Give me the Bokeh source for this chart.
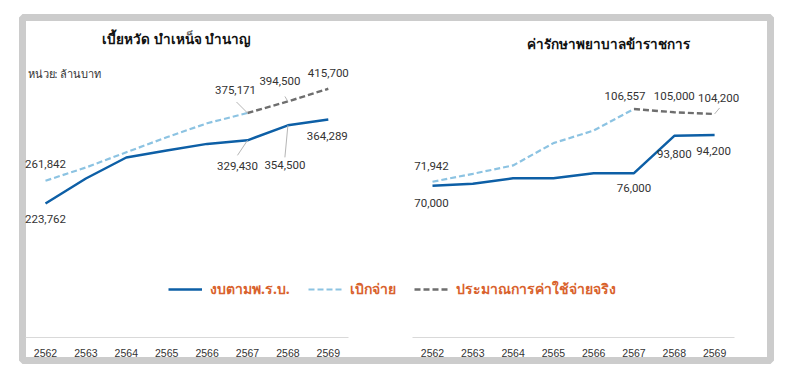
from bokeh.plotting import figure
from bokeh.models import Range1d, LinearAxis, FixedTicker, Label, Legend, LegendItem, ColumnDataSource
from bokeh.embed import file_html
from bokeh.resources import INLINE
from bokeh.core.properties import value

# ---------------- data ----------------
years = [2562, 2563, 2564, 2565, 2566, 2567, 2568, 2569]
paid_years = [2562, 2563, 2564, 2565, 2566, 2567]
est_years = [2567, 2568, 2569]

pension_title = "เบี้ยหวัด บำเหน็จ บำนาญ"
pension_budget = [223762, 265600, 300700, 312400, 323500, 329430, 354500, 364289]
pension_paid = [261842, 284000, 309500, 334600, 358000, 375171]
pension_est = [375171, 394500, 415700]

medical_title = "ค่ารักษาพยาบาลข้าราชการ"
medical_budget = [70000, 71000, 73600, 73600, 76000, 76000, 93800, 94200]
medical_paid = [71942, 75700, 79700, 90300, 96300, 106557]
medical_est = [106557, 105000, 104200]

unit_text = "หน่วย: ล้านบาท"
legend_labels = ["งบตามพ.ร.บ.", "เบิกจ่าย", "ประมาณการค่าใช้จ่ายจริง"]

# ---------------- styles ----------------
C_BUDGET = "#0d5fa6"
C_PAID = "#8cc3e2"
C_EST = "#6e6e6e"
C_LEGEND = "#d9622d"
C_TEXT = "#333333"
THAI_FONT = "Noto Sans"
NUM_FONT = "Roboto"

FW, FH = 748, 343  # frame size in px

p = figure(width=784, height=365, output_backend="svg", toolbar_location=None,
           x_range=Range1d(2561.4307, 2579.9456), y_range=Range1d(-38890, 534928),
           x_axis_type=None, y_axis_type=None,
           min_border_left=22, min_border_right=14, min_border_top=17, min_border_bottom=5)
p.extra_x_ranges = {"r": Range1d(2551.8263, 2570.3871)}
p.extra_y_ranges = {"r": Range1d(-13157, 150111)}
p.grid.visible = False
p.outline_line_color = "#cccccc"
p.outline_line_width = 7
p.background_fill_color = "white"
p.border_fill_color = "white"

# axes (inside the box)
for rn in ("default", "r"):
    ax = LinearAxis(x_range_name=rn, ticker=FixedTicker(ticks=years), fixed_location=0,
                    bounds=(2561.5, 2569.5),
                    axis_line_color="#d9d9d9", axis_line_width=1,
                    major_tick_line_color=None, minor_tick_line_color=None,
                    major_label_standoff=6,
                    major_label_text_font="Liberation Sans",
                    major_label_text_font_size="10.5px",
                    major_label_text_color=C_TEXT)
    p.add_layout(ax, "below")


def panel(budget, paid, est, rn, labels, leaders):
    kw = {} if rn == "default" else {"x_range_name": rn, "y_range_name": rn}
    r_b = p.line(years, budget, line_color=C_BUDGET, line_width=2.5, **kw)
    r_p = p.line(paid_years, paid, line_color=C_PAID, line_width=2.2, line_dash="6 3", **kw)
    r_e = p.line(est_years, est, line_color=C_EST, line_width=2.4, line_dash="6 3", **kw)

    series = {"budget": (years, budget), "paid": (paid_years, paid), "est": (est_years, est)}
    xr = p.x_range if rn == "default" else p.extra_x_ranges[rn]
    yr = p.y_range if rn == "default" else p.extra_y_ranges[rn]
    xpp = (xr.end - xr.start) / FW
    ypp = (yr.end - yr.start) / FH

    # leader lines
    x0, y0, x1, y1 = [], [], [], []
    for name, i, dx, dy in leaders:
        xs, ys = series[name]
        x0.append(xs[i]); y0.append(ys[i])
        x1.append(xs[i] + dx * xpp); y1.append(ys[i] - dy * ypp)
    if x0:
        p.segment(x0, y0, x1, y1, line_color="#b5b5b5", line_width=1, **kw)

    src = dict(x=[], y=[], t=[], dx=[], dy=[])
    for name, i, dx, dy in labels:
        xs, ys = series[name]
        src["x"].append(xs[i]); src["y"].append(ys[i])
        src["t"].append(f"{ys[i]:,}")
        src["dx"].append(dx); src["dy"].append(dy)
    p.text(x="x", y="y", text="t", x_offset="dx", y_offset="dy", source=ColumnDataSource(src),
           text_align="center", text_baseline="middle", text_font=value(NUM_FONT),
           text_font_size="11.5px", text_color=C_TEXT, **kw)
    return r_b, r_p, r_e


left_labels = [("budget", 0, 0, 16), ("budget", 5, -10, 26), ("budget", 6, -3, 40),
               ("budget", 7, -1, 17), ("paid", 0, 0, -17), ("paid", 5, -12, -23),
               ("est", 1, -8, -20), ("est", 2, 0, -16)]
left_leaders = [("paid", 5, -11, -11), ("est", 1, -3, -5), ("budget", 5, -10, 15),
                ("budget", 6, -3, 32)]
right_labels = [("budget", 0, -1, 17), ("budget", 5, 0, 15), ("budget", 6, 0, 18),
                ("budget", 7, -1, 16), ("paid", 0, -1, -16), ("paid", 5, -9, -13),
                ("est", 1, 0, -16), ("est", 2, 4, -16)]
right_leaders = [("est", 2, 5, -6)]

rb, rp, re_ = panel(pension_budget, pension_paid, pension_est, "default", left_labels, left_leaders)
panel(medical_budget, medical_paid, medical_est, "r", right_labels, right_leaders)

# titles and unit (frame screen coords, y from bottom)
p.add_layout(Label(x=154, y=322, x_units="screen", y_units="screen", text=pension_title,
                   text_align="center", text_baseline="middle", text_font=THAI_FONT,
                   text_font_style="bold", text_font_size="13.5px", text_color="#111111"))
p.add_layout(Label(x=586, y=317, x_units="screen", y_units="screen", text=medical_title,
                   text_align="center", text_baseline="middle", text_font=THAI_FONT,
                   text_font_style="bold", text_font_size="13.5px", text_color="#111111"))
p.add_layout(Label(x=5, y=287, x_units="screen", y_units="screen", text=unit_text,
                   text_align="left", text_baseline="middle", text_font=THAI_FONT,
                   text_font_size="11px", text_color=C_TEXT))

legend = Legend(items=[LegendItem(label=legend_labels[0], renderers=[rb]),
                       LegendItem(label=legend_labels[1], renderers=[rp]),
                       LegendItem(label=legend_labels[2], renderers=[re_])],
                orientation="horizontal", location=(146, 60),
                padding=0, margin=0, spacing=18, label_standoff=8,
                glyph_width=34, glyph_height=20, label_height=20,
                border_line_color=None, background_fill_alpha=0,
                label_text_font=THAI_FONT, label_text_font_style="bold",
                label_text_font_size="14px", label_text_color=C_LEGEND)
p.add_layout(legend)

open("out.html", "w").write(file_html(p, INLINE))
